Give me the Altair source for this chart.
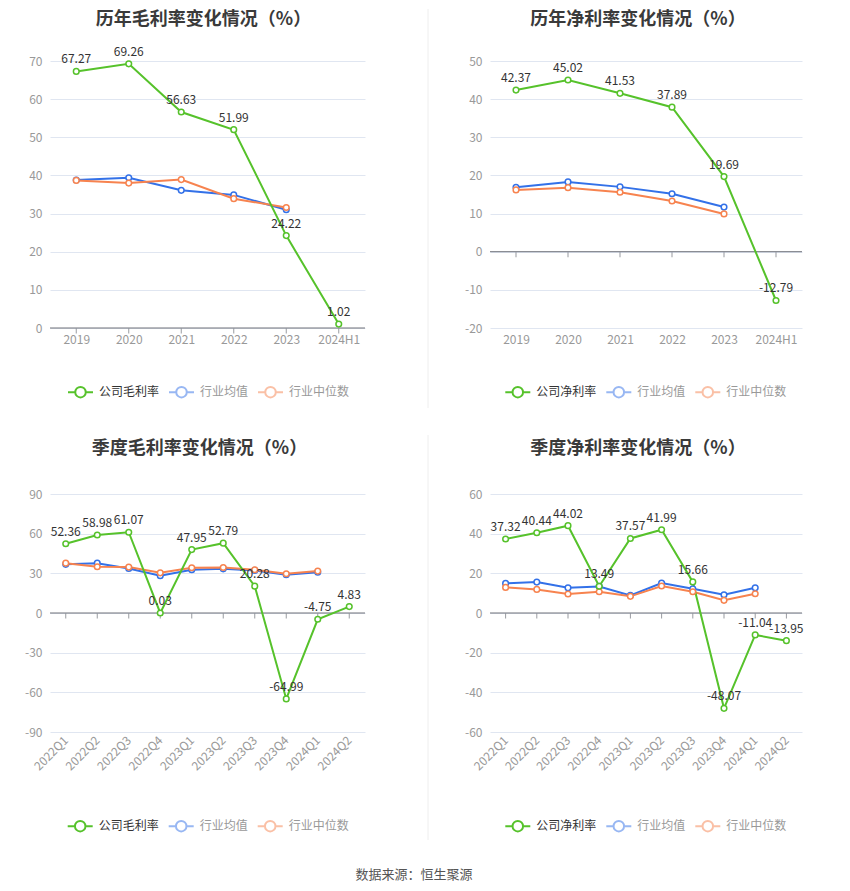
import altair as alt
import pandas as pd

FONT = "Noto Sans CJK SC"
GREEN = "#56c22b"
BLUE = "#3371e8"
ORANGE = "#f7834f"

years = ["2019", "2020", "2021", "2022", "2023", "2024H1"]
gm_company = [67.27, 69.26, 56.63, 51.99, 24.22, 1.02]
gm_mean = [38.8, 39.4, 36.1, 34.9, 31.0]
gm_median = [38.7, 38.0, 38.9, 33.9, 31.6]

nm_company = [42.37, 45.02, 41.53, 37.89, 19.69, -12.79]
nm_mean = [16.9, 18.3, 17.0, 15.2, 11.7]
nm_median = [16.2, 16.8, 15.6, 13.3, 9.9]

quarters = ["2022Q1", "2022Q2", "2022Q3", "2022Q4", "2023Q1",
            "2023Q2", "2023Q3", "2023Q4", "2024Q1", "2024Q2"]
qgm_company = [52.36, 58.98, 61.07, 0.03, 47.95, 52.79, 20.28, -64.99, -4.75, 4.83]
qgm_mean = [36.8, 37.7, 33.7, 28.2, 32.7, 33.4, 32.2, 28.9, 30.9]
qgm_median = [37.7, 35.0, 34.7, 30.4, 34.2, 34.4, 32.7, 29.7, 31.7]

qnm_company = [37.32, 40.44, 44.02, 13.49, 37.57, 41.99, 15.66, -48.07, -11.04, -13.95]
qnm_mean = [14.9, 15.6, 12.7, 13.4, 8.9, 15.1, 12.2, 9.2, 12.7]
qnm_median = [12.9, 11.9, 9.6, 10.7, 8.4, 13.6, 10.7, 6.4, 9.7]

MEAN = "行业均值"
MEDIAN = "行业中位数"

LEGEND_PATH = ("M-1,0L-0.42,0M0.42,0L1,0"
               "M0.42,0A0.42,0.42,0,1,1,-0.42,0A0.42,0.42,0,1,1,0.42,0Z")


def panel(title, title_dx, title_offset, cats, cname, company, mean, median,
          ydom, yvals, width, height, rotate, legend_x, legend_gap,
          frame, divider):
    rows = []
    for name, vals in [(MEAN, mean), (MEDIAN, median), (cname, company)]:
        for c, v in zip(cats, vals):
            rows.append({"cat": c, "series": name, "value": v,
                         "label": f"{v:.2f}"})
    df = pd.DataFrame(rows)
    comp = df[df.series == cname]

    xaxis = alt.Axis(
        title=None, domain=False, ticks=False, grid=False,
        labelColor="#999999", labelFontSize=12, labelFont=FONT,
        labelPadding=6,
        labelAngle=315 if rotate else 0,
        labelAlign="right" if rotate else "center",
        labelBaseline="middle" if rotate else "top",
    )
    x = alt.X("cat:O", sort=cats,
              scale=alt.Scale(type="point", domain=cats, padding=0.5),
              axis=xaxis)
    y = alt.Y("value:Q",
              scale=alt.Scale(domain=ydom, nice=False, zero=False),
              axis=alt.Axis(title=None, domain=False, ticks=False,
                            values=yvals, gridColor="#e0e6f1",
                            labelExpr="'' + datum.value",
                            labelColor="#999999", labelFontSize=12,
                            labelFont=FONT, labelPadding=8))
    color = alt.Color(
        "series:N",
        scale=alt.Scale(domain=[cname, MEAN, MEDIAN],
                        range=[GREEN, BLUE, ORANGE]),
        legend=alt.Legend(
            title=None, orient="none", direction="horizontal",
            legendX=legend_x, legendY=height + legend_gap - 12.5,
            symbolType=LEGEND_PATH, symbolSize=625,
            symbolStrokeWidth=2, symbolFillColor="white",
            labelFontSize=12, labelFont=FONT, labelOffset=5,
            columnPadding=5, padding=0,
            symbolOpacity={"expr": "indexof(datum.value, '公司') === 0 ? 1 : 0.5"},
            labelColor={"expr": "indexof(datum.value, '公司') === 0 ? '#333333' : '#999999'"},
        ),
    )

    if divider:
        # light divider between the left and right panels
        frame_line = alt.Chart(pd.DataFrame({"d": [0]})).mark_rule(
            color="#eeeeee", strokeWidth=1
        ).encode(x=alt.value(-62), y=alt.value(frame[0]), y2=alt.value(frame[1]))
    else:
        # invisible spacer so both panels of a row share the same top edge
        frame_line = alt.Chart(pd.DataFrame({"d": [0]})).mark_rule(
            color="#ffffff", strokeWidth=1
        ).encode(x=alt.value(0), y=alt.value(frame[0]), y2=alt.value(frame[0] + 6))
    zero = alt.Chart(pd.DataFrame({"value": [0]})).mark_rule(
        color="#6e7079", strokeWidth=1).encode(y=y)
    ticks = alt.Chart(pd.DataFrame({"cat": cats, "value": [0] * len(cats)})).mark_tick(
        orient="vertical", size=5, thickness=1, yOffset=3, color="#6e7079"
    ).encode(x=x, y=y)
    lines = alt.Chart(df).mark_line(strokeWidth=2).encode(x=x, y=y, color=color)
    points = alt.Chart(df).mark_point(
        filled=False, fill="white", size=32, strokeWidth=1.5, opacity=1
    ).encode(x=x, y=y, color=color)
    labels = alt.Chart(comp).mark_text(
        baseline="bottom", dy=-5, fontSize=12, font=FONT, color="#333333"
    ).encode(x=x, y=y, text="label:N")

    return alt.layer(frame_line, zero, ticks, lines, points, labels).properties(
        width=width, height=height,
        title=alt.TitleParams(title, fontSize=18, fontWeight="bold",
                              font=FONT, color="#3a3a3a", anchor="middle",
                              frame="group", offset=title_offset, dx=title_dx),
    )


TOP_FRAME = (-52, 347)
BOT_FRAME = (-59, 346)

p1 = panel("历年毛利率变化情况（%）", -4, -20, years, "公司毛利率", gm_company, gm_mean,
           gm_median, [0, 70], [0, 10, 20, 30, 40, 50, 60, 70], 315, 267, False,
           17, 63, TOP_FRAME, False)
p2 = panel("历年净利率变化情况（%）", -8, -20, years, "公司净利率", nm_company, nm_mean,
           nm_median, [-20, 50], [-20, -10, 0, 10, 20, 30, 40, 50], 312, 267, False,
           14.3, 63, TOP_FRAME, True)
p3 = panel("季度毛利率变化情况（%）", -8, -23, quarters, "公司毛利率", qgm_company, qgm_mean,
           qgm_median, [-90, 90], [-90, -60, -30, 0, 30, 60, 90], 315, 238, True,
           16.7, 93, BOT_FRAME, False)
p4 = panel("季度净利率变化情况（%）", -8, -23, quarters, "公司净利率", qnm_company, qnm_mean,
           qnm_median, [-60, 60], [-60, -40, -20, 0, 20, 40, 60], 312, 238, True,
           14.3, 93, BOT_FRAME, True)

top = alt.hconcat(p1, p2, spacing=125, bounds="flush").resolve_scale(color="independent")
bottom = alt.hconcat(p3, p4, spacing=125, bounds="flush").resolve_scale(color="independent")

chart = alt.vconcat(top, bottom, spacing=25).resolve_scale(color="independent").properties(
    title=alt.TitleParams("数据来源：恒生聚源", orient="bottom", anchor="middle",
                          fontSize=13, fontWeight="normal", font=FONT,
                          color="#555555", offset=28),
    padding={"left": 16, "top": 0, "right": 5, "bottom": 5},
).configure_view(stroke=None)

chart.save("out.html", embed_options={"renderer": "svg", "actions": False})
